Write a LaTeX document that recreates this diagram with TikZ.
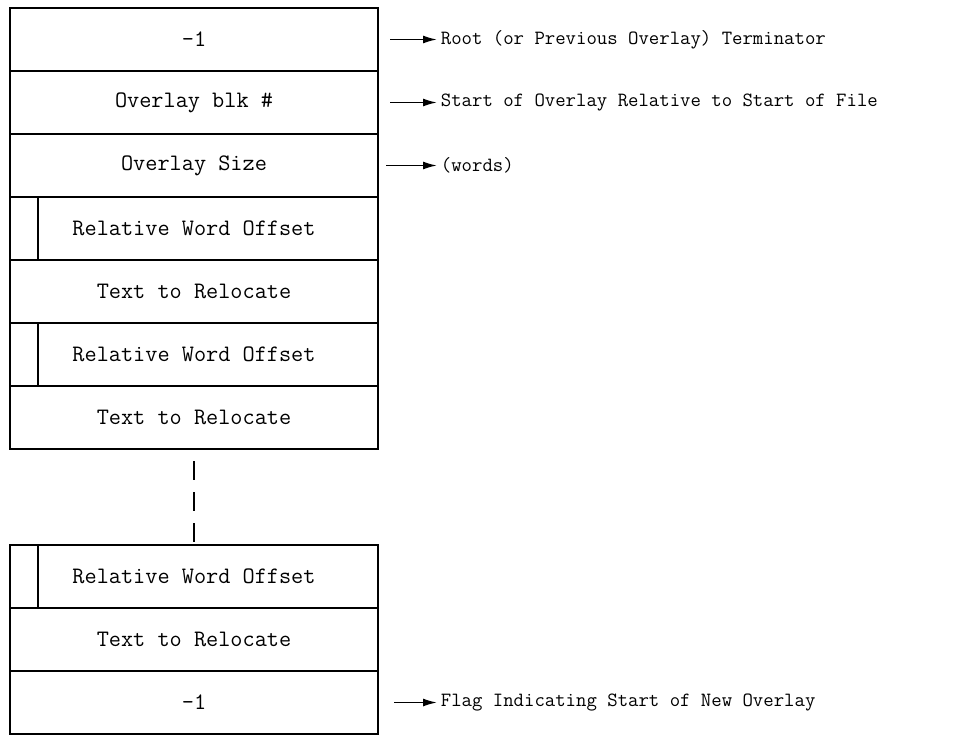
\documentclass[tikz,border=0pt]{standalone}
\usetikzlibrary{arrows.meta,positioning}

\begin{document}
\begin{tikzpicture}[
    x=1pt, y=-1pt,
    font=\ttfamily\fontsize{23.6}{27}\selectfont,
    >={Latex[length=14pt,width=8pt]},
    line width=1.8pt,
    cell/.style={draw, minimum width=368pt, minimum height=63pt, outer sep=0pt, inner sep=0pt},
    note/.style={anchor=west, inner sep=3pt, font=\ttfamily\fontsize{20.2}{24}\selectfont},
    link/.style={->, line width=1.6pt}
]
\useasboundingbox (0,0) rectangle (980,736);

\node[cell] (term) at (194,39.5) {-1};
\node[cell, below=0pt of term] (blk) {Overlay blk \#};
\node[cell, below=0pt of blk] (size) {Overlay Size};
\node[cell, below=0pt of size] (offA) {Relative Word Offset};
\node[cell, below=0pt of offA] (textA) {Text to Relocate};
\node[cell, below=0pt of textA] (offB) {Relative Word Offset};
\node[cell, below=0pt of offB] (textB) {Text to Relocate};

\node[cell, below=96pt of textB] (offC) {Relative Word Offset};
\node[cell, below=0pt of offC] (textC) {Text to Relocate};
\node[cell, below=0pt of textC] (flag) {-1};

% flag column of the offset words
\foreach \r in {offA,offB,offC}
    \draw ([xshift=28pt]\r.north west) -- ([xshift=28pt]\r.south west);

\draw[dash pattern=on 19pt off 12pt, dash phase=19pt] (textB.south) -- (offC.north);

\node[note, right=59pt of term] (termnote) {Root (or Previous Overlay) Terminator};
\node[note, right=59pt of blk] (blknote) {Start of Overlay Relative to Start of File};
\node[note, right=59pt of size] (sizenote) {(words)};
\node[note, right=59pt of flag] (flagnote) {Flag Indicating Start of New Overlay};
\draw[link] ([xshift=12pt]term.east) -- (termnote.west);
\draw[link] ([xshift=12pt]blk.east) -- (blknote.west);
\draw[link] ([xshift=8pt]size.east) -- (sizenote.west);
\draw[link] ([xshift=16pt]flag.east) -- (flagnote.west);
\end{tikzpicture}
\end{document}
